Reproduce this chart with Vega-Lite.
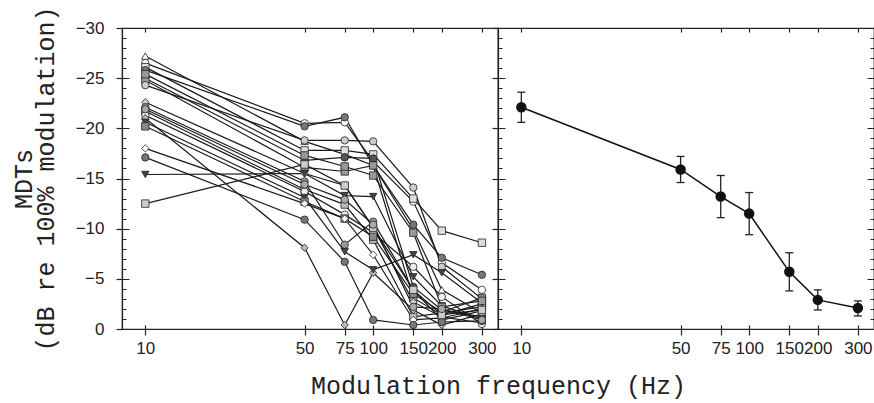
{
  "$schema": "https://vega.github.io/schema/vega-lite/v6.json",
  "padding": {"left": 10, "top": 5, "right": 0, "bottom": 0},
  "bounds": "flush",
  "spacing": 0,
  "datasets": {
    "subjects": [
      {"subject": "S1", "freq": 10, "mdt": -27.2}, {"subject": "S1", "freq": 50, "mdt": -18.7}, {"subject": "S1", "freq": 75, "mdt": -17.4}, {"subject": "S1", "freq": 100, "mdt": -16.3}, {"subject": "S1", "freq": 150, "mdt": -9.9}, {"subject": "S1", "freq": 200, "mdt": -3.9}, {"subject": "S1", "freq": 300, "mdt": -1.6},
      {"subject": "S2", "freq": 10, "mdt": -26.5}, {"subject": "S2", "freq": 50, "mdt": -20.5}, {"subject": "S2", "freq": 75, "mdt": -20.6}, {"subject": "S2", "freq": 100, "mdt": -16.7}, {"subject": "S2", "freq": 150, "mdt": -12.7}, {"subject": "S2", "freq": 200, "mdt": -6.6}, {"subject": "S2", "freq": 300, "mdt": -3.9},
      {"subject": "S3", "freq": 10, "mdt": -26.1}, {"subject": "S3", "freq": 50, "mdt": -17.8}, {"subject": "S3", "freq": 75, "mdt": -17.8}, {"subject": "S3", "freq": 100, "mdt": -17.4}, {"subject": "S3", "freq": 150, "mdt": -13.0}, {"subject": "S3", "freq": 200, "mdt": -9.8}, {"subject": "S3", "freq": 300, "mdt": -8.6},
      {"subject": "S4", "freq": 10, "mdt": -25.8}, {"subject": "S4", "freq": 50, "mdt": -20.2}, {"subject": "S4", "freq": 75, "mdt": -21.1}, {"subject": "S4", "freq": 100, "mdt": -16.3}, {"subject": "S4", "freq": 150, "mdt": -10.4}, {"subject": "S4", "freq": 200, "mdt": -7.1}, {"subject": "S4", "freq": 300, "mdt": -5.4},
      {"subject": "S5", "freq": 10, "mdt": -25.0}, {"subject": "S5", "freq": 50, "mdt": -16.8}, {"subject": "S5", "freq": 75, "mdt": -17.1}, {"subject": "S5", "freq": 100, "mdt": -17.0}, {"subject": "S5", "freq": 150, "mdt": -4.2}, {"subject": "S5", "freq": 200, "mdt": -1.9}, {"subject": "S5", "freq": 300, "mdt": -1.2},
      {"subject": "S6", "freq": 10, "mdt": -24.8}, {"subject": "S6", "freq": 50, "mdt": -16.1}, {"subject": "S6", "freq": 75, "mdt": -15.7}, {"subject": "S6", "freq": 100, "mdt": -16.3}, {"subject": "S6", "freq": 150, "mdt": -3.1}, {"subject": "S6", "freq": 200, "mdt": -1.4}, {"subject": "S6", "freq": 300, "mdt": -2.5},
      {"subject": "S7", "freq": 10, "mdt": -24.3}, {"subject": "S7", "freq": 50, "mdt": -18.8}, {"subject": "S7", "freq": 75, "mdt": -18.8}, {"subject": "S7", "freq": 100, "mdt": -18.7}, {"subject": "S7", "freq": 150, "mdt": -14.1}, {"subject": "S7", "freq": 200, "mdt": -6.2}, {"subject": "S7", "freq": 300, "mdt": -3.0},
      {"subject": "S8", "freq": 10, "mdt": -22.6}, {"subject": "S8", "freq": 50, "mdt": -15.5}, {"subject": "S8", "freq": 75, "mdt": -14.3}, {"subject": "S8", "freq": 100, "mdt": -10.1}, {"subject": "S8", "freq": 150, "mdt": -2.7}, {"subject": "S8", "freq": 200, "mdt": -1.2}, {"subject": "S8", "freq": 300, "mdt": -0.6},
      {"subject": "S9", "freq": 10, "mdt": -22.1}, {"subject": "S9", "freq": 50, "mdt": -14.7}, {"subject": "S9", "freq": 75, "mdt": -8.4}, {"subject": "S9", "freq": 100, "mdt": -10.7}, {"subject": "S9", "freq": 150, "mdt": -3.9}, {"subject": "S9", "freq": 200, "mdt": -0.9}, {"subject": "S9", "freq": 300, "mdt": -1.8},
      {"subject": "S10", "freq": 10, "mdt": -21.7}, {"subject": "S10", "freq": 50, "mdt": -13.9}, {"subject": "S10", "freq": 75, "mdt": -12.4}, {"subject": "S10", "freq": 100, "mdt": -8.9}, {"subject": "S10", "freq": 150, "mdt": -1.2}, {"subject": "S10", "freq": 200, "mdt": -1.6}, {"subject": "S10", "freq": 300, "mdt": -2.2},
      {"subject": "S11", "freq": 10, "mdt": -21.3}, {"subject": "S11", "freq": 50, "mdt": -13.7}, {"subject": "S11", "freq": 75, "mdt": -11.4}, {"subject": "S11", "freq": 100, "mdt": -9.6}, {"subject": "S11", "freq": 150, "mdt": -6.2}, {"subject": "S11", "freq": 200, "mdt": -3.2}, {"subject": "S11", "freq": 300, "mdt": -0.5},
      {"subject": "S12", "freq": 10, "mdt": -21.0}, {"subject": "S12", "freq": 50, "mdt": -8.1}, {"subject": "S12", "freq": 75, "mdt": -0.4}, {"subject": "S12", "freq": 100, "mdt": -5.6}, {"subject": "S12", "freq": 150, "mdt": -1.9}, {"subject": "S12", "freq": 200, "mdt": -0.4}, {"subject": "S12", "freq": 300, "mdt": -1.5},
      {"subject": "S13", "freq": 10, "mdt": -20.6}, {"subject": "S13", "freq": 50, "mdt": -13.1}, {"subject": "S13", "freq": 75, "mdt": -7.7}, {"subject": "S13", "freq": 100, "mdt": -5.9}, {"subject": "S13", "freq": 150, "mdt": -7.4}, {"subject": "S13", "freq": 200, "mdt": -5.6}, {"subject": "S13", "freq": 300, "mdt": -2.6},
      {"subject": "S14", "freq": 10, "mdt": -20.2}, {"subject": "S14", "freq": 50, "mdt": -12.7}, {"subject": "S14", "freq": 75, "mdt": -11.0}, {"subject": "S14", "freq": 100, "mdt": -9.2}, {"subject": "S14", "freq": 150, "mdt": -3.5}, {"subject": "S14", "freq": 200, "mdt": -1.7}, {"subject": "S14", "freq": 300, "mdt": -3.1},
      {"subject": "S15", "freq": 10, "mdt": -18.0}, {"subject": "S15", "freq": 50, "mdt": -12.5}, {"subject": "S15", "freq": 75, "mdt": -11.0}, {"subject": "S15", "freq": 100, "mdt": -7.4}, {"subject": "S15", "freq": 150, "mdt": -0.9}, {"subject": "S15", "freq": 200, "mdt": -1.1}, {"subject": "S15", "freq": 300, "mdt": -2.0},
      {"subject": "S16", "freq": 10, "mdt": -17.1}, {"subject": "S16", "freq": 50, "mdt": -10.9}, {"subject": "S16", "freq": 75, "mdt": -6.7}, {"subject": "S16", "freq": 100, "mdt": -0.9}, {"subject": "S16", "freq": 150, "mdt": -0.4}, {"subject": "S16", "freq": 200, "mdt": -0.7}, {"subject": "S16", "freq": 300, "mdt": -0.8},
      {"subject": "S17", "freq": 10, "mdt": -15.4}, {"subject": "S17", "freq": 50, "mdt": -15.5}, {"subject": "S17", "freq": 75, "mdt": -13.3}, {"subject": "S17", "freq": 100, "mdt": -13.2}, {"subject": "S17", "freq": 150, "mdt": -5.2}, {"subject": "S17", "freq": 200, "mdt": -2.3}, {"subject": "S17", "freq": 300, "mdt": -1.0},
      {"subject": "S18", "freq": 10, "mdt": -12.5}, {"subject": "S18", "freq": 50, "mdt": -16.4}, {"subject": "S18", "freq": 75, "mdt": -14.3}, {"subject": "S18", "freq": 100, "mdt": -10.1}, {"subject": "S18", "freq": 150, "mdt": -3.9}, {"subject": "S18", "freq": 200, "mdt": -1.4}, {"subject": "S18", "freq": 300, "mdt": -1.9},
      {"subject": "S19", "freq": 10, "mdt": -25.4}, {"subject": "S19", "freq": 50, "mdt": -17.3}, {"subject": "S19", "freq": 75, "mdt": -16.2}, {"subject": "S19", "freq": 100, "mdt": -15.3}, {"subject": "S19", "freq": 150, "mdt": -9.6}, {"subject": "S19", "freq": 200, "mdt": -2.2}, {"subject": "S19", "freq": 300, "mdt": -2.8},
      {"subject": "S20", "freq": 10, "mdt": -21.9}, {"subject": "S20", "freq": 50, "mdt": -14.4}, {"subject": "S20", "freq": 75, "mdt": -12.9}, {"subject": "S20", "freq": 100, "mdt": -10.4}, {"subject": "S20", "freq": 150, "mdt": -2.2}, {"subject": "S20", "freq": 200, "mdt": -2.0}, {"subject": "S20", "freq": 300, "mdt": -0.9}
    ],
    "means": [
      {"freq": 10, "mean": -22.1, "lo": -23.6, "hi": -20.6},
      {"freq": 50, "mean": -15.9, "lo": -17.2, "hi": -14.6},
      {"freq": 75, "mean": -13.2, "lo": -15.3, "hi": -11.1},
      {"freq": 100, "mean": -11.5, "lo": -13.6, "hi": -9.4},
      {"freq": 150, "mean": -5.7, "lo": -7.6, "hi": -3.8},
      {"freq": 200, "mean": -2.9, "lo": -3.9, "hi": -1.9},
      {"freq": 300, "mean": -2.1, "lo": -2.8, "hi": -1.3}
    ]
  },
  "hconcat": [
    {
      "width": 376,
      "height": 301,
      "data": {"name": "subjects"},
      "layer": [
        {
          "mark": {"type": "line", "color": "#1a1a1a", "strokeWidth": 1.2},
          "encoding": {
            "detail": {"field": "subject", "type": "nominal"},
            "x": {"field": "freq", "type": "quantitative", "scale": {"type": "log", "domain": [7.9, 353], "nice": false},
              "axis": {"orient": "bottom", "values": [10, 50, 75, 100, 150, 200, 300], "format": "d", "labelOverlap": false, "labelFlush": false, "tickSize": 6, "labelPadding": 5, "grid": true, "gridDash": [4, 2000], "gridColor": "#222", "gridOpacity": 1, "gridWidth": 1.2, "tickWidth": 1.2,
                "title": "Modulation frequency (Hz)", "titleX": 376, "titleY": 64, "titleAlign": "center", "titleBaseline": "alphabetic"}},
            "y": {"field": "mdt", "type": "quantitative", "scale": {"domain": [-30, 0], "reverse": true, "nice": false, "zero": false},
              "axis": {"orient": "left", "values": [-30, -29, -28, -27, -26, -25, -24, -23, -22, -21, -20, -19, -18, -17, -16, -15, -14, -13, -12, -11, -10, -9, -8, -7, -6, -5, -4, -3, -2, -1, 0],
                "labelExpr": "datum.value % 5 === 0 ? datum.label : ''", "format": "d", "labelOverlap": false, "labelPadding": 12, "tickSize": 6, "tickWidth": 1.2,
                "tickOpacity": {"condition": {"test": "datum.value % 5 === 0", "value": 1}, "value": 0},
                "grid": true, "gridColor": "#222", "gridOpacity": 1, "gridWidth": 1,
                "gridDash": {"condition": {"test": "datum.value % 5 === 0", "value": [7, 2000]}, "value": [4, 2000]},
                "title": ["MDTs", "(dB re 100% modulation)"], "titleLineHeight": 22, "titlePadding": 17}}
          }
        },
        {
          "mark": {"type": "point", "filled": true, "stroke": "#222", "strokeWidth": 0.8, "size": 55, "opacity": 1},
          "encoding": {
            "x": {"field": "freq", "type": "quantitative", "scale": {"type": "log", "domain": [7.9, 353], "nice": false},
              "axis": {"orient": "top", "values": [10, 50, 75, 100, 150, 200, 300], "labels": false, "ticks": false, "title": null, "grid": true, "gridDash": [4, 2000], "gridColor": "#222", "gridOpacity": 1, "gridWidth": 1.2}},
            "y": {"field": "mdt", "type": "quantitative", "scale": {"domain": [-30, 0], "reverse": true, "nice": false, "zero": false}, "axis": null},
            "shape": {"field": "subject", "type": "nominal", "legend": null,
              "scale": {"domain": ["S1", "S2", "S3", "S4", "S5", "S6", "S7", "S8", "S9", "S10", "S11", "S12", "S13", "S14", "S15", "S16", "S17", "S18", "S19", "S20"],
                "range": ["triangle-up", "circle", "square", "circle", "circle", "square", "circle", "diamond", "circle", "square", "circle", "diamond", "triangle-down", "square", "diamond", "circle", "triangle-down", "square", "square", "circle"]}},
            "fill": {"field": "subject", "type": "nominal", "legend": null,
              "scale": {"domain": ["S1", "S2", "S3", "S4", "S5", "S6", "S7", "S8", "S9", "S10", "S11", "S12", "S13", "S14", "S15", "S16", "S17", "S18", "S19", "S20"],
                "range": ["#ffffff", "#ffffff", "#dddddd", "#777777", "#555555", "#999999", "#cccccc", "#cccccc", "#999999", "#bbbbbb", "#eeeeee", "#bbbbbb", "#444444", "#888888", "#ffffff", "#777777", "#444444", "#cccccc", "#999999", "#aaaaaa"]}}
          }
        }
      ],
      "resolve": {"axis": {"x": "independent", "y": "independent"}}
    },
    {
      "width": 376,
      "height": 301,
      "data": {"name": "means"},
      "layer": [
        {
          "mark": {"type": "rule", "color": "#222", "strokeWidth": 1.3},
          "encoding": {
            "x": {"field": "freq", "type": "quantitative", "scale": {"type": "log", "domain": [7.9, 353], "nice": false},
              "axis": {"orient": "bottom", "values": [10, 50, 75, 100, 150, 200, 300], "format": "d", "labelOverlap": false, "labelFlush": false, "tickSize": 6, "labelPadding": 5, "grid": true, "gridDash": [4, 2000], "gridColor": "#222", "gridOpacity": 1, "gridWidth": 1.2, "tickWidth": 1.2, "title": null}},
            "y": {"field": "lo", "type": "quantitative", "scale": {"domain": [-30, 0], "reverse": true, "nice": false, "zero": false},
              "axis": {"orient": "left", "values": [-30, -29, -28, -27, -26, -25, -24, -23, -22, -21, -20, -19, -18, -17, -16, -15, -14, -13, -12, -11, -10, -9, -8, -7, -6, -5, -4, -3, -2, -1, 0],
                "labels": false, "tickSize": 6, "tickWidth": 1.2,
                "tickOpacity": {"condition": {"test": "datum.value % 5 === 0", "value": 1}, "value": 0},
                "grid": true, "gridColor": "#222", "gridOpacity": 1, "gridWidth": 1,
                "gridDash": {"condition": {"test": "datum.value % 5 === 0", "value": [7, 2000]}, "value": [4, 2000]},
                "title": null}},
            "y2": {"field": "hi"}
          }
        },
        {
          "mark": {"type": "tick", "orient": "horizontal", "color": "#222", "size": 8, "thickness": 1.3, "opacity": 1},
          "encoding": {
            "x": {"field": "freq", "type": "quantitative", "scale": {"type": "log", "domain": [7.9, 353], "nice": false},
              "axis": {"orient": "top", "values": [10, 50, 75, 100, 150, 200, 300], "labels": false, "ticks": false, "title": null, "grid": true, "gridDash": [4, 2000], "gridColor": "#222", "gridOpacity": 1, "gridWidth": 1.2}},
            "y": {"field": "lo", "type": "quantitative", "scale": {"domain": [-30, 0], "reverse": true, "nice": false, "zero": false},
              "axis": {"orient": "right", "values": [-30, -29, -28, -27, -26, -25, -24, -23, -22, -21, -20, -19, -18, -17, -16, -15, -14, -13, -12, -11, -10, -9, -8, -7, -6, -5, -4, -3, -2, -1, 0],
                "labels": false, "ticks": false,
                "grid": true, "gridColor": "#222", "gridOpacity": 1, "gridWidth": 1,
                "gridDash": {"condition": {"test": "datum.value % 5 === 0", "value": [7, 2000]}, "value": [4, 2000]},
                "title": null}}
          }
        },
        {
          "mark": {"type": "tick", "orient": "horizontal", "color": "#222", "size": 8, "thickness": 1.3, "opacity": 1},
          "encoding": {
            "x": {"field": "freq", "type": "quantitative", "scale": {"type": "log", "domain": [7.9, 353], "nice": false}, "axis": null},
            "y": {"field": "hi", "type": "quantitative", "scale": {"domain": [-30, 0], "reverse": true, "nice": false, "zero": false}, "axis": null}
          }
        },
        {
          "mark": {"type": "line", "color": "#111", "strokeWidth": 1.5},
          "encoding": {
            "x": {"field": "freq", "type": "quantitative", "scale": {"type": "log", "domain": [7.9, 353], "nice": false}, "axis": null},
            "y": {"field": "mean", "type": "quantitative", "scale": {"domain": [-30, 0], "reverse": true, "nice": false, "zero": false}, "axis": null}
          }
        },
        {
          "mark": {"type": "point", "filled": true, "color": "#111", "size": 110, "opacity": 1},
          "encoding": {
            "x": {"field": "freq", "type": "quantitative", "scale": {"type": "log", "domain": [7.9, 353], "nice": false}, "axis": null},
            "y": {"field": "mean", "type": "quantitative", "scale": {"domain": [-30, 0], "reverse": true, "nice": false, "zero": false}, "axis": null}
          }
        }
      ],
      "resolve": {"axis": {"x": "independent", "y": "independent"}}
    }
  ],
  "config": {
    "view": {"stroke": "#222", "strokeWidth": 1.2},
    "axis": {"domainColor": "#222", "domainWidth": 1.2, "tickColor": "#222", "labelColor": "#222", "labelFont": "Liberation Sans", "labelFontSize": 17, "titleColor": "#222", "titleFont": "Liberation Mono", "titleFontSize": 25, "titleFontWeight": "normal"}
  }
}
